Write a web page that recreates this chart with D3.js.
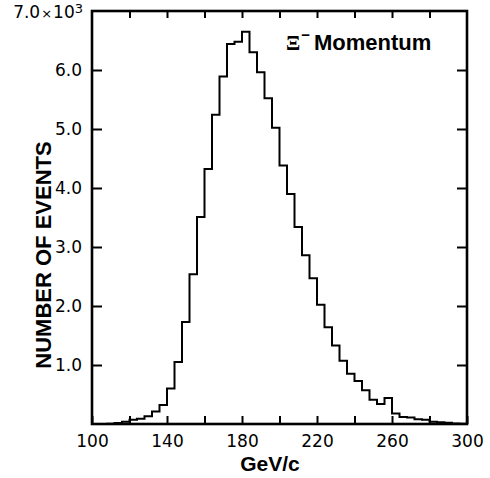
<!DOCTYPE html>
<meta charset="utf-8">
<style type="text/css">
  body { margin: 0; background: #fff; }
  svg { position: absolute; left: 0; top: 0; }
  .tick text { font-family: "DejaVu Sans", sans-serif; font-size: 17px; fill: #000; }
  .tick line { stroke: #000; stroke-width: 2; }
</style>
<svg width="490" height="478"></svg>
<script src="https://d3js.org/d3.v7.min.js"></script>
<script>

// lower edge of each 4 GeV/c bin
var binStart = [100, 104, 108, 112, 116, 120, 124, 128, 132, 136,
                140, 144, 148, 152, 156, 160, 164, 168, 172, 176,
                180, 184, 188, 192, 196, 200, 204, 208, 212, 216,
                220, 224, 228, 232, 236, 240, 244, 248, 252, 256,
                260, 264, 268, 272, 276, 280, 284, 288, 292, 296];
var binWidth = 4;
// events per bin, in units of 10^3
var events = [0, 0, 0.005, 0.015, 0.04, 0.07, 0.09, 0.13, 0.21, 0.32,
              0.60, 1.05, 1.73, 2.54, 3.51, 4.32, 5.24, 5.89, 6.44, 6.48,
              6.65, 6.30, 5.96, 5.52, 5.02, 4.38, 3.90, 3.34, 2.86, 2.47,
              2.02, 1.64, 1.33, 1.07, 0.85, 0.73, 0.57, 0.41, 0.34, 0.44,
              0.18, 0.12, 0.11, 0.08, 0.07, 0.04, 0.03, 0.02, 0.01, 0.005];

var xTicks = [100, 120, 140, 160, 180, 200, 220, 240, 260, 280, 300];
var xLabels = [100, 140, 180, 220, 260, 300];
var yTicks = [1, 2, 3, 4, 5, 6];

var svg = d3.select("svg"),
    plotLeft = 92, plotRight = 467, plotTop = 11, plotBottom = 424;

var x = d3.scaleLinear().domain([100, 300]).range([plotLeft, plotRight]);
var y = d3.scaleLinear().domain([0, 7]).range([plotBottom, plotTop]);

// ticks, all pointing inward
svg.append("g")
    .attr("transform", "translate(0," + plotBottom + ")")
    .call(d3.axisBottom(x).tickValues(xTicks).tickSize(-8).tickPadding(11)
      .tickFormat(function(d){ return xLabels.indexOf(d) >= 0 ? d : ""; }))
    .call(function(g){ g.select(".domain").remove(); });

svg.append("g")
    .attr("transform", "translate(0," + plotTop + ")")
    .call(d3.axisTop(x).tickValues(xTicks.slice(1, -1)).tickSize(-7).tickFormat(""))
    .call(function(g){ g.select(".domain").remove(); });

svg.append("g")
    .attr("transform", "translate(" + plotLeft + ",0)")
    .call(d3.axisLeft(y).tickValues(yTicks).tickSize(-10).tickPadding(10)
      .tickFormat(d3.format(".1f")))
    .call(function(g){ g.select(".domain").remove(); });

svg.append("g")
    .attr("transform", "translate(" + plotRight + ",0)")
    .call(d3.axisRight(y).tickValues(yTicks).tickSize(-10).tickFormat(""))
    .call(function(g){ g.select(".domain").remove(); });

// top label 7.0 x 10^3
var topLabel = svg.append("text")
    .attr("x", 83).attr("y", y(7) + 7)
    .attr("text-anchor", "end")
    .style("font-family", "DejaVu Sans, sans-serif")
    .style("font-size", "17px");
topLabel.append("tspan").text("7.0");
topLabel.append("tspan").style("font-size", "13px").attr("dx", 1).text("×");
topLabel.append("tspan").attr("dx", 1).text("10");
topLabel.append("tspan").attr("dy", -5).style("font-size", "13px").text("3");

// histogram outline
var line = d3.line()
    .x(function(d){ return x(d[0]); })
    .y(function(d){ return y(d[1]); });

var pts = [[binStart[0], 0]];
binStart.forEach(function(b, i){
  pts.push([b, events[i]]);
  pts.push([b + binWidth, events[i]]);
});
pts.push([binStart[binStart.length - 1] + binWidth, 0]);

svg.append("path")
    .datum(pts)
    .attr("d", line)
    .attr("fill", "none")
    .attr("stroke", "#000")
    .attr("stroke-width", 2)
    .attr("stroke-linejoin", "miter");

// frame
svg.append("rect")
    .attr("x", plotLeft).attr("y", plotTop)
    .attr("width", plotRight - plotLeft).attr("height", plotBottom - plotTop)
    .attr("fill", "none")
    .attr("stroke", "#000")
    .attr("stroke-width", 2.6);

// titles
svg.append("text")
    .attr("x", 270).attr("y", 471)
    .attr("text-anchor", "middle")
    .style("font-family", "Liberation Sans, Arial, sans-serif")
    .style("font-weight", "bold")
    .style("font-size", "21px")
    .text("GeV/c");

svg.append("text")
    .attr("transform", "translate(51," + 255 + ") rotate(-90)")
    .attr("text-anchor", "middle")
    .style("font-family", "Liberation Sans, Arial, sans-serif")
    .style("font-weight", "bold")
    .style("font-size", "22px")
    .text("NUMBER OF EVENTS");

var legend = svg.append("text")
    .attr("x", 286).attr("y", 50)
    .style("font-weight", "bold");
legend.append("tspan")
    .style("font-family", "Liberation Serif, serif")
    .style("font-size", "21px")
    .text("Ξ");
legend.append("tspan")
    .attr("dy", -10).attr("dx", 1)
    .style("font-family", "Liberation Sans, sans-serif")
    .style("font-size", "15px")
    .text("−");
legend.append("tspan")
    .attr("dy", 10).attr("dx", 4)
    .style("font-family", "Liberation Sans, Arial, sans-serif")
    .style("font-size", "22px")
    .text("Momentum");

</script>
